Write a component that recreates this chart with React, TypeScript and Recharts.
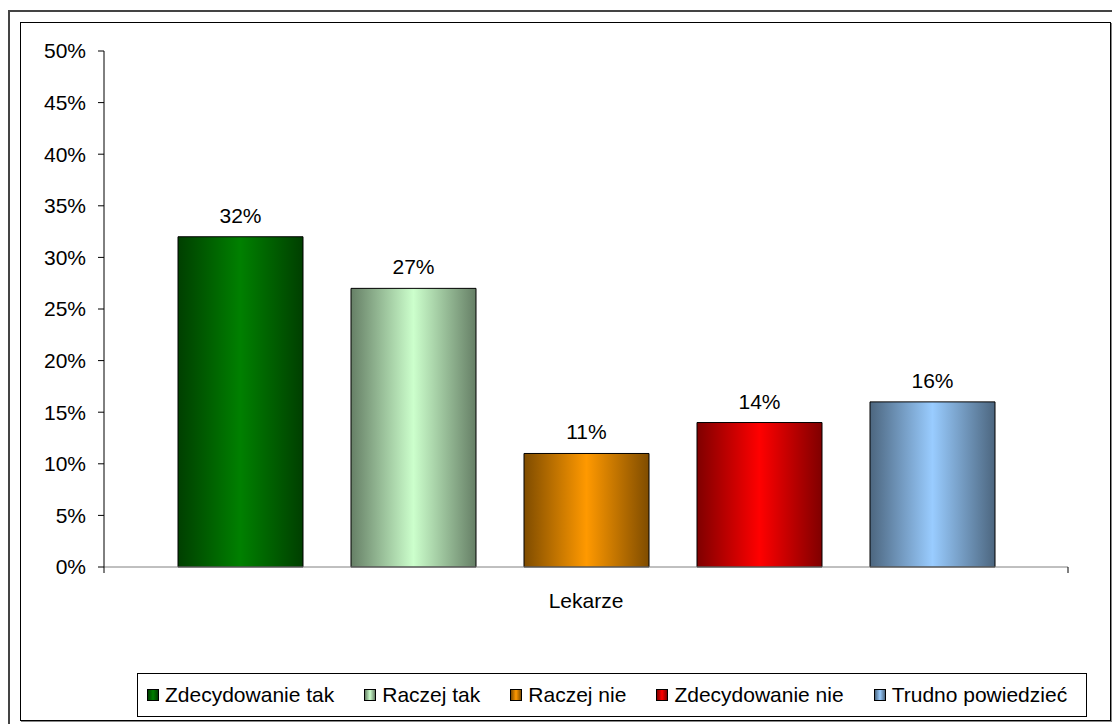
import { BarChart, Bar, XAxis, YAxis, LabelList } from "recharts";

const categories = ["Lekarze"];
const seriesNames = [
  "Zdecydowanie tak",
  "Raczej tak",
  "Raczej nie",
  "Zdecydowanie nie",
  "Trudno powiedzieć",
];
const seriesValues = [[32], [27], [11], [14], [16]];
const yTicks = [0, 5, 10, 15, 20, 25, 30, 35, 40, 45, 50];

// light centre / dark edge of each bar's gradient
const palette = [
  { light: "#008000", dark: "#003f00" },
  { light: "#ccffcc", dark: "#667f66" },
  { light: "#ff9900", dark: "#7f4c00" },
  { light: "#ff0000", dark: "#7f0000" },
  { light: "#99ccff", dark: "#4c667f" },
];

const FONT = '"Liberation Sans", Arial, sans-serif';

const data = categories.map((name, ci) => {
  const row: Record<string, string | number> = { group: name };
  seriesNames.forEach((_, si) => {
    row[`s${si}`] = seriesValues[si][ci];
  });
  return row;
});

function CategoryTick(props: any) {
  const { x, y, payload } = props;
  const half = payload?.offset ?? 0;
  return (
    <g>
      <line x1={x - half} x2={x - half} y1={y} y2={y + 6} stroke="#000" />
      <line x1={x + half} x2={x + half} y1={y} y2={y + 6} stroke="#000" />
      <text x={x} y={y + 41} textAnchor="middle" fill="#000" fontSize={21} fontFamily={FONT}>
        {payload.value}
      </text>
    </g>
  );
}

export default function App() {
  return (
    <div
      style={{
        position: "absolute",
        left: 0,
        top: 0,
        width: 1112,
        height: 724,
        overflow: "hidden",
        background: "#fff",
        fontFamily: FONT,
      }}
    >
      {/* outer frame, cut by the picture edge */}
      <div
        style={{
          position: "absolute",
          left: 8,
          top: 10,
          width: 1200,
          height: 800,
          borderLeft: "2px solid #444",
          borderTop: "2px solid #444",
        }}
      />
      {/* chart area */}
      <div
        style={{
          position: "absolute",
          left: 20,
          top: 22,
          width: 1089,
          height: 697,
          border: "1px solid #000",
          boxShadow: "1px 1px 0 #888",
          background: "#fff",
        }}
      />

      <div style={{ position: "absolute", left: 0, top: 0 }}>
        <BarChart
          width={1112}
          height={724}
          data={data}
          margin={{ top: 51, right: 44, bottom: 97, left: 44 }}
          barSize={125}
          barGap={48}
        >
          <defs>
            {palette.map((c, i) => (
              <linearGradient key={i} id={`grad${i}`} x1="0" y1="0" x2="1" y2="0">
                <stop offset="0%" stopColor={c.dark} />
                <stop offset="50%" stopColor={c.light} />
                <stop offset="100%" stopColor={c.dark} />
              </linearGradient>
            ))}
          </defs>
          <XAxis
            dataKey="group"
            height={60}
            axisLine={{ stroke: "#808080" }}
            tickLine={false}
            tickSize={0}
            tickMargin={0}
            tick={<CategoryTick />}
            interval={0}
          />
          <YAxis
            width={60}
            domain={[0, 50]}
            ticks={yTicks}
            interval={0}
            tickFormatter={(v) => `${v}%`}
            axisLine={{ stroke: "#000" }}
            tickLine={{ stroke: "#000" }}
            tickSize={6}
            tickMargin={12}
            tick={{ fill: "#000", fontSize: 21, fontFamily: FONT }}
          />
          {seriesNames.map((name, i) => (
            <Bar
              key={name}
              dataKey={`s${i}`}
              name={name}
              fill={`url(#grad${i})`}
              stroke="#000"
              strokeWidth={1}
              isAnimationActive={false}
            >
              <LabelList
                dataKey={`s${i}`}
                position="top"
                offset={14}
                formatter={(v: any) => `${v}%`}
                fill="#000"
                fontSize={21}
                fontFamily={FONT}
              />
            </Bar>
          ))}
        </BarChart>
      </div>

      {/* legend */}
      <div
        style={{
          position: "absolute",
          left: 137,
          top: 673,
          width: 939,
          height: 42,
          border: "1px solid #000",
          background: "#fff",
          display: "flex",
          alignItems: "center",
          paddingLeft: 9,
          boxSizing: "content-box",
        }}
      >
        {seriesNames.map((name, i) => (
          <div
            key={name}
            style={{
              display: "flex",
              alignItems: "center",
              marginRight: i < seriesNames.length - 1 ? 30 : 0,
            }}
          >
            <span
              style={{
                display: "inline-block",
                width: 10,
                height: 10,
                border: "1px solid #000",
                background: `linear-gradient(to right, ${palette[i].dark}, ${palette[i].light}, ${palette[i].dark})`,
                marginRight: 6,
              }}
            />
            <span style={{ fontSize: 21, color: "#000", whiteSpace: "nowrap", lineHeight: "24px" }}>
              {name}
            </span>
          </div>
        ))}
      </div>
    </div>
  );
}
